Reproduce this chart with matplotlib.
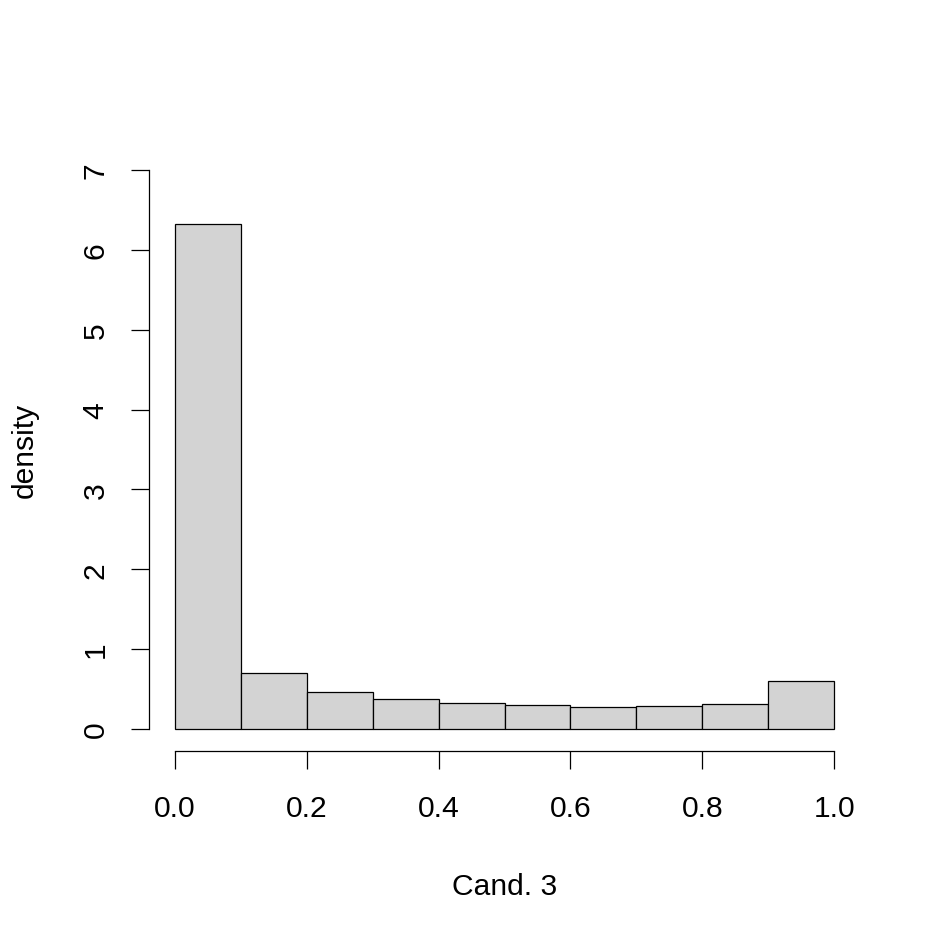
import matplotlib.pyplot as plt
import numpy as np

plt.rcParams["font.family"] = ["Liberation Sans", "DejaVu Sans"]

# histogram of Cand. 3 (density scale), bins of width 0.1
bin_edges = [0.0, 0.1, 0.2, 0.3, 0.4, 0.5, 0.6, 0.7, 0.8, 0.9, 1.0]
densities = [6.32, 0.70, 0.463, 0.376, 0.326, 0.300, 0.275, 0.288, 0.313, 0.600]
x_ticks = [0.0, 0.2, 0.4, 0.6, 0.8, 1.0]
x_tick_labels = ["0.0", "0.2", "0.4", "0.6", "0.8", "1.0"]
y_ticks = [0, 1, 2, 3, 4, 5, 6, 7]


def main() -> None:
    fig = plt.figure(figsize=(9.37, 9.37), dpi=100)
    ax = fig.add_axes([0.1586, 0.197, 0.7597, 0.6444])

    edges = np.array(bin_edges)
    ax.bar(edges[:-1], densities, width=np.diff(edges), align="edge",
           color="#d3d3d3", edgecolor="black", linewidth=0.9)

    ax.set_xlim(-0.04, 1.04)
    ax.set_ylim(-0.28, 7.28)

    for side in ("top", "right"):
        ax.spines[side].set_visible(False)
    ax.spines["left"].set_bounds(0, 7)
    ax.spines["bottom"].set_bounds(0, 1)
    ax.spines["left"].set_linewidth(0.9)
    ax.spines["bottom"].set_linewidth(0.9)

    ax.set_xticks(x_ticks)
    ax.set_xticklabels(x_tick_labels)
    ax.set_yticks(y_ticks)
    ax.set_yticklabels([str(v) for v in y_ticks], rotation=90, va="center")
    ax.tick_params(axis="both", length=13, width=0.9, labelsize=21.6)
    ax.tick_params(axis="x", pad=18)
    ax.tick_params(axis="y", pad=15)

    ax.set_xlabel("Cand. 3", fontsize=21.6, labelpad=36)
    ax.set_ylabel("density", fontsize=21.6, labelpad=31)

    fig.savefig("out.png", dpi=100)
    plt.close(fig)


if __name__ == "__main__":
    main()
